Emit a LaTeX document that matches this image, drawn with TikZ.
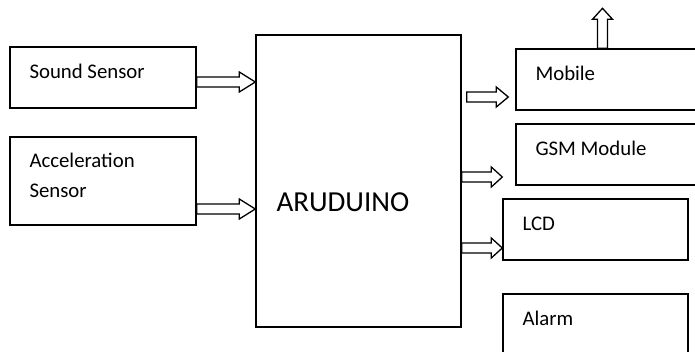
\documentclass[tikz,border=0pt]{standalone}
\usepackage{fontspec}
\setmainfont{Carlito}
\usetikzlibrary{calc}
\tikzset{
  box/.style={draw, line width=1.4pt, minimum width=186pt, minimum height=61pt, inner sep=0pt},
  lbl/.style={anchor=west, xshift=20pt, yshift=6pt, align=left, inner sep=0pt, font=\fontsize{20.8}{30}\selectfont},
  big/.style={anchor=west, xshift=21pt, yshift=-21pt, inner sep=0pt, font=\fontsize{29}{35}\selectfont},
  blk/.style={draw, fill=white, line width=1.3pt, line join=miter}
}
% hollow block arrow pointing right: [head length]{from}{to}
\newcommand{\fatright}[3][12]{%
  \draw[blk] let \p1=#2, \p2=#3 in
    (\x1,\y1+5pt) -- (\x2-#1pt,\y1+5pt) -- (\x2-#1pt,\y1+10pt) -- (\x2,\y1)
    -- (\x2-#1pt,\y1-10pt) -- (\x2-#1pt,\y1-5pt) -- (\x1,\y1-5pt) -- cycle;}
% hollow block arrow pointing up
\newcommand{\fatup}[3][11]{%
  \draw[blk] let \p1=#2, \p2=#3 in
    (\x1-5pt,\y1) -- (\x1-5pt,\y2-#1pt) -- (\x1-10pt,\y2-#1pt) -- (\x1,\y2)
    -- (\x1+10pt,\y2-#1pt) -- (\x1+5pt,\y2-#1pt) -- (\x1+5pt,\y1) -- cycle;}
\begin{document}
\begin{tikzpicture}[x=1pt,y=-1pt]
    \useasboundingbox (0,0) rectangle (695,351);
    \clip (0,0) rectangle (695,351);

    \node[box, label={[lbl]west:Sound Sensor}] (snd) at (103,77.5) {};
    \node[box, minimum height=88pt, label={[lbl]west:Acceleration\\Sensor}] (acc) at (103,181) {};
    \node[box, minimum width=205pt, minimum height=292pt, label={[big]west:ARUDUINO}] (ard) at (358.5,181) {};
    \node[box, label={[lbl]west:Mobile}] (mob) at (609,79.5) {};
    \node[box, label={[lbl]west:GSM Module}] (gsm) at (609,154.5) {};
    \node[box, minimum width=185pt, label={[lbl]west:LCD}] (lcd) at (595.5,229.5) {};
    \node[box, minimum width=185pt, label={[lbl]west:Alarm}] (alm) at (595.5,324.5) {};

    \fatright[16]{(snd.east |- 0,82)}{(ard.west |- 0,82)}
    \fatright[16]{(acc.east |- 0,209)}{(ard.west |- 0,209)}
    \fatright{($(ard.east |- 0,97)+(5,0)$)}{($(mob.west |- 0,97)+(-7,0)$)}
    \fatright[11]{(ard.east |- 0,177)}{($(gsm.west |- 0,177)+(-13,0)$)}
    \fatright[11]{(ard.east |- 0,248)}{(lcd.west |- 0,248)}
    \fatup{($(mob.north)+(-6.5,0)$)}{($(mob.north)+(-6.5,-40)$)}
\end{tikzpicture}
\end{document}
